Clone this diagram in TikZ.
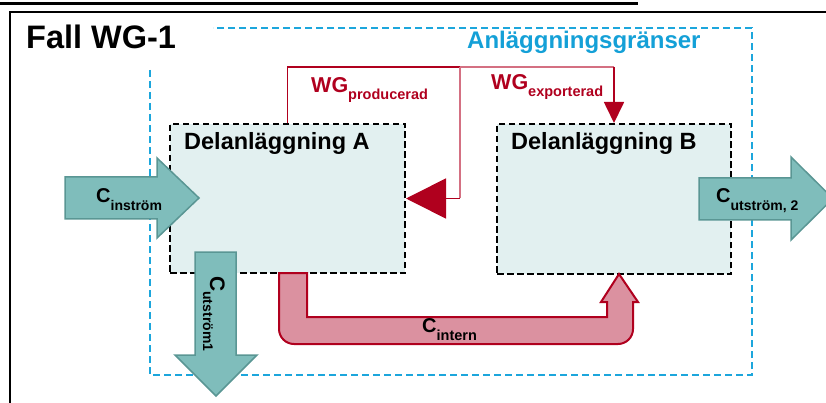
\documentclass[tikz,border=0pt]{standalone}
\usepackage{fontspec}
\setmainfont{Liberation Sans}
\usetikzlibrary{arrows.meta}

\definecolor{wgred}{RGB}{176,0,30}
\definecolor{wgpink}{RGB}{212,112,130}
\definecolor{bordercyan}{RGB}{28,166,220}
\definecolor{textcyan}{RGB}{20,160,215}
\definecolor{boxfill}{RGB}{226,240,240}
\definecolor{flowfill}{RGB}{127,189,187}
\definecolor{flowedge}{RGB}{90,150,148}
\definecolor{internfill}{RGB}{219,145,160}

\begin{document}
\begin{tikzpicture}[x=1pt,y=-1pt,
  subunit/.style={draw=black, line width=2pt, dash pattern=on 6.5pt off 3.5pt,
    fill=boxfill, inner sep=0pt},
  boundary/.style={draw=bordercyan, line width=2pt, dash pattern=on 7pt off 4pt},
  wgdark/.style={draw=wgred, line width=1.7pt},
  wglight/.style={draw=wgpink, line width=1.5pt},
  flowarrow/.style={fill=flowfill, draw=flowedge, line width=1.5pt, line join=miter},
  internarrow/.style={fill=internfill, draw=wgred, line width=2pt, line join=miter},
  lbl/.style={anchor=base west, inner sep=0pt},
]
\useasboundingbox (0,0) rectangle (826,403);

% page rule and outer frame
\draw[line width=3.2pt] (0,3.5) -- (638,3.5);
\draw[line width=2.5pt] (840,12) -- (10,12) -- (10,415);

% plant boundary
\draw[boundary] (150,70) -- (150,375) -- (752,375) -- (752,28) -- (213,28);

% sub-units
\node[subunit, minimum width=235pt, minimum height=149pt] (boxA) at (287.5,198.5) {};
\node[subunit, minimum width=234pt, minimum height=150pt] (boxB) at (614,199) {};

% titles
\node[lbl, font=\bfseries\fontsize{32.5}{33}\selectfont] (title) at (26,49) {Fall WG-1};
\node[lbl, font=\bfseries\fontsize{24}{24}\selectfont, text=textcyan] (bound) at (467,49) {Anläggningsgränser};
\node[lbl, font=\bfseries\fontsize{23.5}{24}\selectfont] (titleA) at (184,149.5) {Delanläggning A};
\node[lbl, font=\bfseries\fontsize{23.5}{24}\selectfont] (titleB) at (511,149.5) {Delanläggning B};

% heat flows (WG)
\coordinate (split) at (460,67);
\draw[wgdark] (boxA.north) |- (split);
\draw[wglight] (split) -- (split |- boxA.east);
\draw[wgdark, -{Triangle[length=40pt,width=40pt]}] (split |- boxA.east) -- (boxA.east);
\draw[wglight] (split) -- (split -| boxB.north);
\draw[wgdark, -{Triangle[length=21pt,width=20pt]}] (split -| boxB.north) -- (boxB.north);

\node[lbl, font=\bfseries, text=wgred] (wgprod) at (311,93)
  {{\fontsize{21.5}{22}\selectfont WG}{\fontsize{14.5}{15}\selectfont\raisebox{-7pt}{producerad}}};
\node[lbl, font=\bfseries, text=wgred] (wgexp) at (491,90)
  {{\fontsize{21.5}{22}\selectfont WG}{\fontsize{14.5}{15}\selectfont\raisebox{-7pt}{exporterad}}};

% carbon flows
\draw[flowarrow] (65,177) -- (157,177) -- (157,158) -- (199,198) -- (157,238)
  -- (157,219) -- (65,219) -- cycle;
\draw[flowarrow] (699,178) -- (791,178) -- (791,157) -- (833,198.5) -- (791,240)
  -- (791,220) -- (699,220) -- cycle;
\draw[flowarrow] (195,252) -- (236,252) -- (236,355) -- (257,355) -- (216,396)
  -- (175,355) -- (195,355) -- cycle;
\draw[internarrow] (279,273) -- (307,273) -- (307,317) -- (607,317) -- (607,302)
  -- (601,302) -- (619,274) -- (638,302) -- (633,302) -- (633,329)
  .. controls (633,337.3) and (626.3,344) .. (618,344) -- (294,344)
  .. controls (285.7,344) and (279,337.3) .. (279,329) -- cycle;

\node[lbl, font=\bfseries] (cin) at (96,203)
  {{\fontsize{20}{20}\selectfont C}{\fontsize{14}{14}\selectfont\raisebox{-8pt}{inström}}};
\node[lbl, font=\bfseries] (cout2) at (716,203)
  {{\fontsize{20}{20}\selectfont C}{\fontsize{14}{14}\selectfont\raisebox{-8pt}{utström, 2}}};
\node[lbl, font=\bfseries, rotate=-90] (cout1) at (210,276)
  {{\fontsize{21}{21}\selectfont C}{\fontsize{14}{14}\selectfont\raisebox{-7pt}{utström1}}};
\node[lbl, font=\bfseries] (cint) at (422,332)
  {{\fontsize{20}{20}\selectfont C}{\fontsize{14.5}{15}\selectfont\raisebox{-8pt}{intern}}};
\end{tikzpicture}
\end{document}
